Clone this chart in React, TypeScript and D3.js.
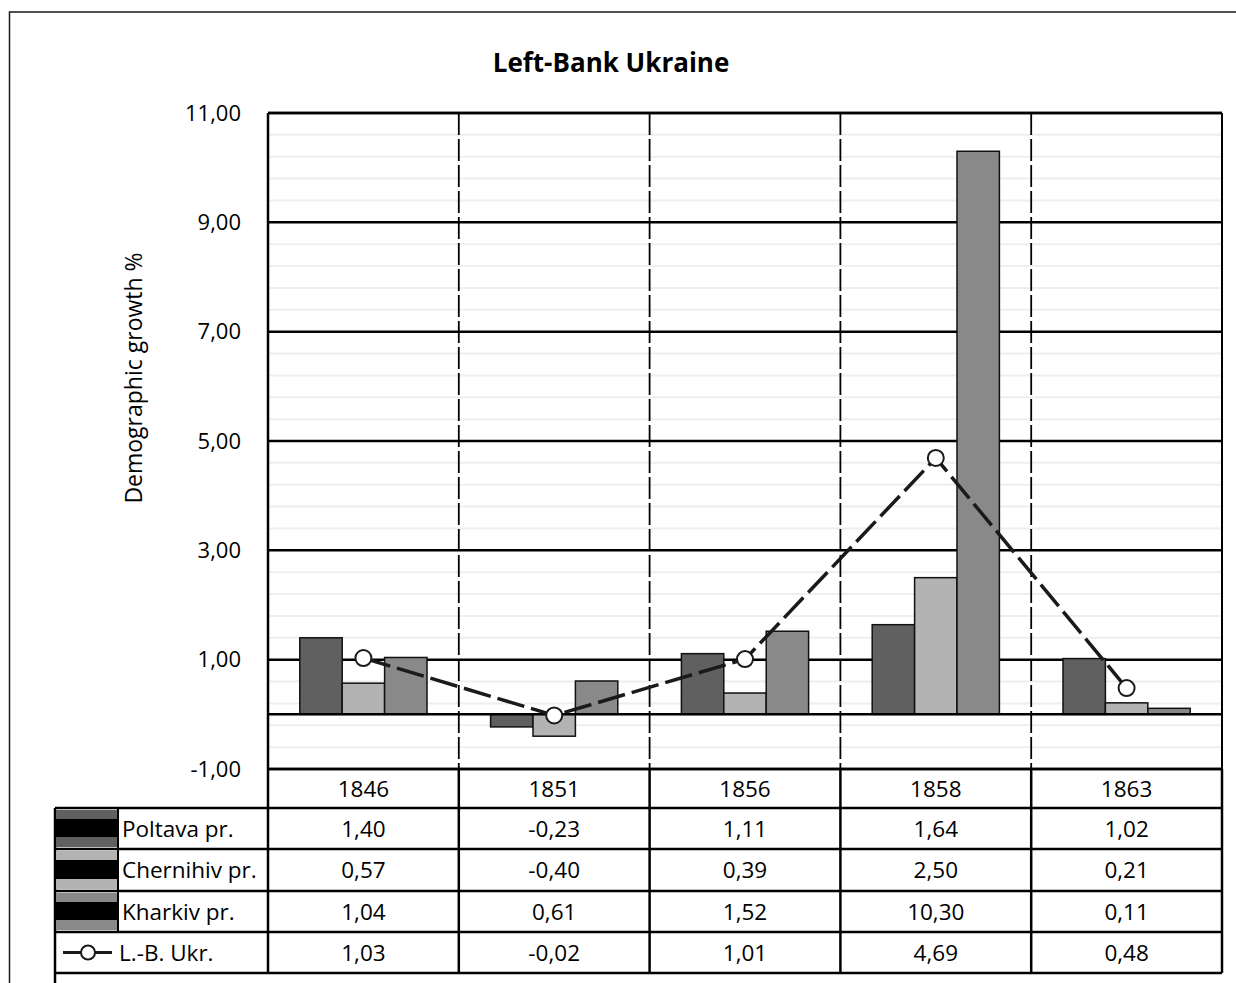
import React from "react";
import * as d3 from "d3";

// Census years and demographic growth (%) per province
const years = ["1846", "1851", "1856", "1858", "1863"];
const poltava = [1.4, -0.23, 1.11, 1.64, 1.02];
const chernihiv = [0.57, -0.4, 0.39, 2.5, 0.21];
const kharkiv = [1.04, 0.61, 1.52, 10.3, 0.11];
const leftBank = [1.03, -0.02, 1.01, 4.69, 0.48];

const barSeries = [
  { name: "Poltava pr.", values: poltava, color: "#606060" },
  { name: "Chernihiv pr.", values: chernihiv, color: "#b3b3b3" },
  { name: "Kharkiv pr.", values: kharkiv, color: "#898989" },
];
const lineSeries = { name: "L.-B. Ukr.", values: leftBank };

const yMajorTicks = [-1, 1, 3, 5, 7, 9, 11];

const W = 1236;
const H = 983;
const FONT = "'Open Sans', 'Noto Sans', sans-serif";

const locale = d3.formatLocale({
  decimal: ",",
  thousands: " ",
  grouping: [3],
  currency: ["", ""],
  minus: "-",
});
const fmt = locale.format(".2f");

export default function App() {
  const plotLeft = 268;
  const plotRight = 1222;
  const plotTop = 113;
  const plotBottom = 769;

  const x = d3.scaleBand<string>().domain(years).range([plotLeft, plotRight]).paddingInner(0).paddingOuter(0);
  const xs = d3
    .scaleBand<string>()
    .domain(barSeries.map((s) => s.name))
    .range([0, x.bandwidth()])
    .paddingInner(0)
    .paddingOuter(0.75);
  const y = d3.scaleLinear().domain([-1, 11]).range([plotBottom, plotTop]);

  const minorTicks = d3
    .range(0, 31)
    .map((k) => -1 + k * 0.4)
    .filter((_, k) => k % 5 !== 0);

  const line = d3
    .line<number>()
    .x((_, i) => (x(years[i]) as number) + x.bandwidth() / 2)
    .y((v) => y(v));

  // data table rows
  const rowEdges = [769, 808, 849, 891, 932, 973];
  const legendLeft = 55;
  const keyRight = 118;
  const colEdges = [plotLeft, ...years.map((yr) => (x(yr) as number) + x.bandwidth())];
  const tableFont = 22.5;

  return (
    <div style={{ position: "absolute", left: 0, top: 0 }}>
      <svg width={W} height={H} style={{ display: "block", background: "#fff" }}>
        {/* outer frame */}
        <rect x={9.5} y={12} width={W} height={H} fill="#fff" stroke="#1a1a1a" strokeWidth={1.5} />

        <text x={611} y={72} textAnchor="middle" fontFamily={FONT} fontWeight={700} fontSize={26} fill="#000">
          Left-Bank Ukraine
        </text>

        {/* minor gridlines */}
        {minorTicks.map((t) => (
          <line key={"mn" + t} x1={plotLeft} x2={plotRight} y1={y(t)} y2={y(t)} stroke="#eeeeee" strokeWidth={2} />
        ))}
        {/* major gridlines */}
        {yMajorTicks.map((t) => (
          <line key={"mj" + t} x1={plotLeft} x2={plotRight} y1={y(t)} y2={y(t)} stroke="#000" strokeWidth={2.5} />
        ))}
        {/* category separators */}
        {years.slice(1).map((yr) => (
          <line
            key={"v" + yr}
            x1={x(yr)}
            x2={x(yr)}
            y1={plotTop}
            y2={plotBottom}
            stroke="#000"
            strokeWidth={1.8}
            strokeDasharray="22 4"
          />
        ))}

        {/* y tick labels */}
        {yMajorTicks.map((t) => (
          <text
            key={"yl" + t}
            x={241}
            y={y(t)}
            dy="0.35em"
            textAnchor="end"
            fontFamily={FONT}
            fontSize={22}
            fill="#000"
          >
            {fmt(t)}
          </text>
        ))}
        <text
          transform={`translate(142,378) rotate(-90)`}
          textAnchor="middle"
          fontFamily={FONT}
          fontSize={23}
          fill="#000"
        >
          Demographic growth %
        </text>

        {/* bars */}
        {barSeries.map((s) =>
          s.values.map((v, i) => {
            const bx = (x(years[i]) as number) + (xs(s.name) as number);
            const y0 = y(0);
            const y1 = y(v);
            return (
              <rect
                key={s.name + i}
                x={bx}
                y={Math.min(y0, y1)}
                width={xs.bandwidth()}
                height={Math.abs(y1 - y0)}
                fill={s.color}
                stroke="#111"
                strokeWidth={1.5}
              />
            );
          })
        )}

        {/* zero line */}
        <line x1={plotLeft} x2={plotRight} y1={y(0)} y2={y(0)} stroke="#000" strokeWidth={2.5} />

        {/* Left-Bank total */}
        <path
          d={line(lineSeries.values) || ""}
          fill="none"
          stroke="#1a1a1a"
          strokeWidth={3.5}
          strokeDasharray="28 7"
        />
        {lineSeries.values.map((v, i) => (
          <circle
            key={"m" + i}
            cx={(x(years[i]) as number) + x.bandwidth() / 2}
            cy={y(v)}
            r={8}
            fill="#fff"
            stroke="#1a1a1a"
            strokeWidth={2}
          />
        ))}

        {/* plot frame */}
        <line x1={plotLeft} x2={plotRight} y1={plotTop} y2={plotTop} stroke="#000" strokeWidth={2.5} />
        <line x1={plotRight} x2={plotRight} y1={plotTop} y2={plotBottom} stroke="#000" strokeWidth={2} />
        <line x1={plotLeft} x2={plotLeft} y1={plotTop} y2={rowEdges[5]} stroke="#000" strokeWidth={2.5} />

        {/* data table */}
        <g>
          {/* horizontal rules */}
          <line x1={plotLeft} x2={plotRight} y1={rowEdges[0]} y2={rowEdges[0]} stroke="#000" strokeWidth={2.5} />
          {rowEdges.slice(1).map((ry) => (
            <line key={"r" + ry} x1={legendLeft} x2={plotRight} y1={ry} y2={ry} stroke="#000" strokeWidth={2.5} />
          ))}
          {/* vertical rules */}
          {colEdges.slice(1).map((cx) => (
            <line key={"c" + cx} x1={cx} x2={cx} y1={rowEdges[0]} y2={rowEdges[5]} stroke="#000" strokeWidth={2.5} />
          ))}
          <line x1={legendLeft} x2={legendLeft} y1={rowEdges[1]} y2={H} stroke="#000" strokeWidth={2.5} />
          <line x1={keyRight} x2={keyRight} y1={rowEdges[1]} y2={rowEdges[4]} stroke="#000" strokeWidth={2} />

          {/* header years */}
          {years.map((yr) => (
            <text
              key={"h" + yr}
              x={(x(yr) as number) + x.bandwidth() / 2}
              y={(rowEdges[0] + rowEdges[1]) / 2}
              dy="0.36em"
              textAnchor="middle"
              fontFamily={FONT}
              fontSize={tableFont}
              fill="#000"
            >
              {yr}
            </text>
          ))}

          {/* series rows */}
          {[...barSeries, { ...lineSeries, color: "" }].map((s, r) => {
            const top = rowEdges[r + 1];
            const bottom = rowEdges[r + 2];
            const mid = (top + bottom) / 2;
            const isLine = r === 3;
            return (
              <g key={"row" + r}>
                {isLine ? (
                  <g>
                    <line x1={63} x2={112} y1={mid} y2={mid} stroke="#1a1a1a" strokeWidth={3} />
                    <circle cx={88} cy={mid} r={7} fill="#fff" stroke="#1a1a1a" strokeWidth={2} />
                  </g>
                ) : (
                  <g>
                    <rect x={legendLeft + 1} y={top + 2} width={keyRight - legendLeft - 2} height={bottom - top - 4} fill={s.color} />
                    <rect x={legendLeft + 1} y={top + 11} width={keyRight - legendLeft - 2} height={bottom - top - 23} fill="#000" />
                  </g>
                )}
                <text
                  x={isLine ? 119 : 122}
                  y={mid}
                  dy="0.36em"
                  fontFamily={FONT}
                  fontSize={tableFont}
                  fill="#000"
                >
                  {s.name}
                </text>
                {s.values.map((v, i) => (
                  <text
                    key={"v" + i}
                    x={(x(years[i]) as number) + x.bandwidth() / 2}
                    y={mid}
                    dy="0.36em"
                    textAnchor="middle"
                    fontFamily={FONT}
                    fontSize={tableFont}
                    fill="#000"
                  >
                    {fmt(v)}
                  </text>
                ))}
              </g>
            );
          })}
        </g>
      </svg>
    </div>
  );
}
